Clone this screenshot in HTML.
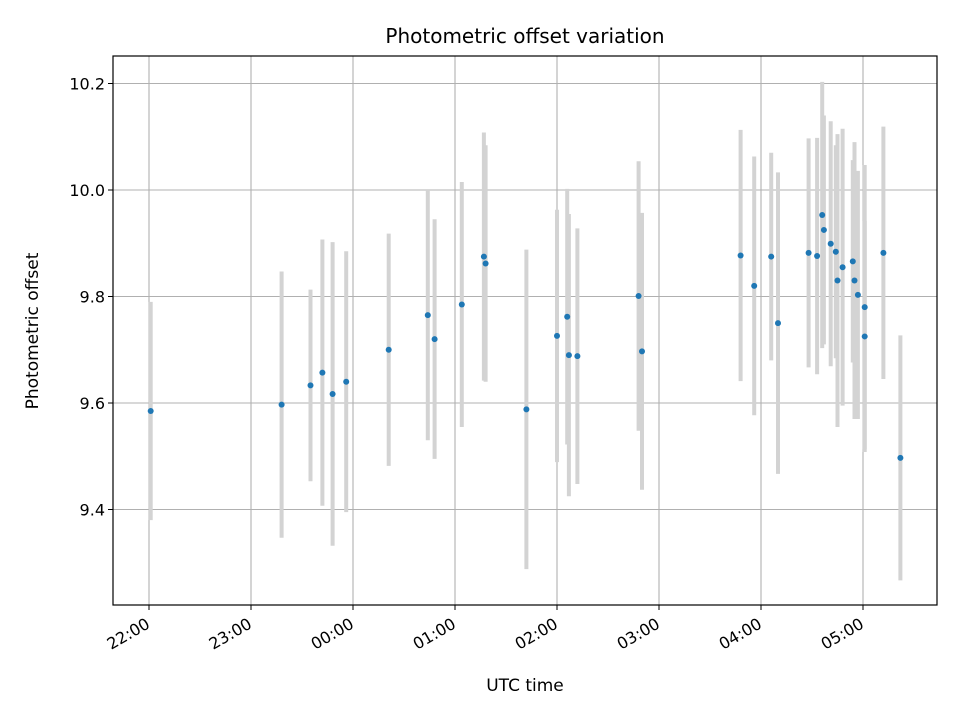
<!DOCTYPE html>
<html><head><meta charset="utf-8"><style>body{margin:0;background:#fff}svg{display:block;font-family:"DejaVu Sans","Liberation Sans",sans-serif}</style></head>
<body>
<svg id="chart" width="960" height="720" viewBox="0 0 960 720" xmlns="http://www.w3.org/2000/svg">
<rect x="0" y="0" width="960" height="720" fill="#fff"/>
<g id="grid"></g>
<g id="errs"></g>
<g id="pts"></g>
<rect x="113" y="56" width="824" height="549" fill="none" stroke="#000" stroke-width="1.2"/>
<g id="ticks"></g>
<text x="525" y="43" font-size="20" text-anchor="middle">Photometric offset variation</text>
<text x="525" y="691" font-size="17" text-anchor="middle">UTC time</text>
<text transform="translate(38,331) rotate(-90)" font-size="17" text-anchor="middle">Photometric offset</text>
</svg>
<script>
const times=["22:01","23:18","23:35","23:42","23:48","23:56","00:21","00:44","00:48","01:04","01:17","01:18","01:42","02:00","02:06","02:07","02:12","02:48","02:50","03:48","03:56","04:06","04:10","04:28","04:33","04:36","04:37","04:41","04:44","04:45","04:48","04:54","04:55","04:57","05:01","05:01","05:12","05:22"];
const offsets=[9.585,9.597,9.633,9.657,9.617,9.64,9.70,9.765,9.72,9.785,9.875,9.862,9.588,9.726,9.762,9.69,9.688,9.801,9.697,9.877,9.82,9.875,9.75,9.882,9.876,9.953,9.925,9.899,9.884,9.83,9.855,9.866,9.83,9.803,9.725,9.78,9.882,9.497];
const errors=[0.205,0.25,0.18,0.25,0.285,0.245,0.218,0.235,0.225,0.23,0.233,0.222,0.30,0.237,0.24,0.265,0.24,0.253,0.26,0.236,0.243,0.195,0.283,0.215,0.222,0.25,0.215,0.23,0.2,0.275,0.26,0.19,0.26,0.233,0.217,0.267,0.237,0.23];
const yTicks=[9.4,9.6,9.8,10.0,10.2];
const xTickLabels=["22:00","23:00","00:00","01:00","02:00","03:00","04:00","05:00"];
const L=113,R=937,T=56,B=605;
function hrs(s){let [h,m]=s.split(":").map(Number);if(h<12)h+=24;return h+m/60;}
const X=h=>149+(h-22)*102;
const Y=v=>190-(v-10)*532.5;
const NS="http://www.w3.org/2000/svg";
function mk(p,tag,a){const e=document.createElementNS(NS,tag);for(const k in a)e.setAttribute(k,a[k]);p.appendChild(e);return e;}
const grid=document.getElementById('grid'),ticks=document.getElementById('ticks'),errs=document.getElementById('errs'),pts=document.getElementById('pts');
yTicks.forEach(v=>{const y=Y(v);
 const g=mk(grid,'line',{x1:L,x2:R,y1:y,y2:y,stroke:'#b0b0b0','stroke-width':1.1});
 
 
 const t=mk(ticks,'line',{x1:L-5,x2:L,y1:y,y2:y,stroke:'#000'});
 
 
 const tx=mk(ticks,'text',{x:L-8,y:y+6,'font-size':16,'text-anchor':'end'});tx.textContent=v.toFixed(1);
 
 
});
xTickLabels.forEach(s=>{const x=X(hrs(s));
 const g=mk(grid,'line',{x1:x,x2:x,y1:T,y2:B,stroke:'#b0b0b0','stroke-width':1.1});
 
 
 const t=mk(ticks,'line',{x1:x,x2:x,y1:B,y2:B+5,stroke:'#000'});
 
 
 const tx=mk(ticks,'text',{transform:`translate(${x+2},${B+22}) rotate(-30)`,'font-size':16,'text-anchor':'end'});tx.textContent=s;
 
 
});
times.forEach((s,i)=>{const x=X(hrs(s));
 const e=mk(errs,'line',{x1:x,x2:x,y1:Y(offsets[i]+errors[i]),y2:Y(offsets[i]-errors[i]),stroke:'#d3d3d3','stroke-width':4});
 
 
});
times.forEach((s,i)=>{
 const c=mk(pts,'circle',{cx:X(hrs(s)),cy:Y(offsets[i]),r:3,fill:'#1f77b4'});
 
 
});
</script>
</body></html>
